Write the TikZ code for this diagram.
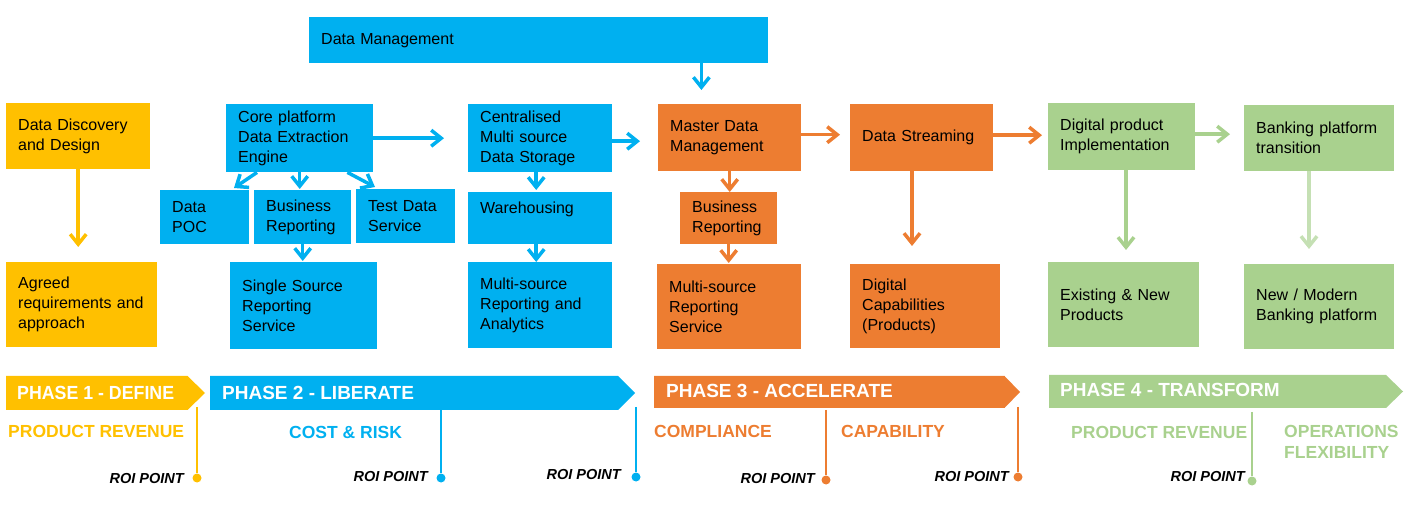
\documentclass[tikz,border=0pt]{standalone}
\usepackage{fontspec}
\setmainfont{Liberation Sans}
\usetikzlibrary{arrows.meta}

\definecolor{cblue}{HTML}{00B0F0}
\definecolor{corange}{HTML}{ED7D31}
\definecolor{cyellow}{HTML}{FFC000}
\definecolor{cgreen}{HTML}{A9D18E}
\definecolor{clightgreen}{HTML}{C5E0B4}

\begin{document}
\begin{tikzpicture}[x=1pt, y=-1pt,
  box/.style={anchor=north west, inner xsep=12pt, inner ysep=0pt, align=left,
    font=\fontsize{16}{20}\selectfont},
  arr/.style={line width=3.5pt, -{Straight Barb[length=10pt,width=16pt]}},
  phase/.style={anchor=west, inner sep=0pt, text=white, font=\fontsize{19}{22}\selectfont\bfseries},
  gain/.style={anchor=west, inner sep=0pt, align=left, font=\fontsize{17.5}{20.5}\selectfont\bfseries},
  roi/.style={anchor=east, inner sep=0pt, font=\fontsize{14.5}{17}\selectfont\bfseries\itshape},
  roidot/.style={circle, inner sep=0pt, minimum size=9pt},
  roiline/.style={line width=2pt}]
  \useasboundingbox (0,0) rectangle (1411,510);

  % Top bar
  \node[box, fill=cblue, text width=435pt, minimum height=46pt] (dm) at (309,17) {Data Management};

  % Phase 1 boxes
  \node[box, fill=cyellow, text width=120pt, minimum height=66pt] (disc) at (6,103) {Data Discovery\\and Design};
  \node[box, fill=cyellow, text width=127pt, minimum height=85pt] (agreed) at (6,262) {Agreed\\requirements and\\approach};

  % Phase 2 boxes
  \node[box, fill=cblue, text width=123pt, minimum height=68pt] (core) at (226,104) {Core platform\\Data Extraction\\Engine};
  \node[box, fill=cblue, text width=65pt, minimum height=54pt] (poc) at (160,190) {Data\\POC};
  \node[box, fill=cblue, text width=73pt, minimum height=54pt] (busrep) at (254,190) {Business\\Reporting};
  \node[box, fill=cblue, text width=75pt, minimum height=54pt] (test) at (356,189) {Test Data\\Service};
  \node[box, fill=cblue, text width=123pt, minimum height=87pt] (single) at (230,262) {Single Source\\Reporting\\Service};
  \node[box, fill=cblue, text width=120pt, minimum height=68pt] (central) at (468,104) {Centralised\\Multi source\\Data Storage};
  \node[box, fill=cblue, text width=120pt, minimum height=52pt] (ware) at (468,192) {Warehousing\\\mbox{}};
  \node[box, fill=cblue, text width=120pt, minimum height=86pt] (msra) at (468,262) {Multi-source\\Reporting and\\Analytics};

  % Phase 3 boxes
  \node[box, fill=corange, text width=119pt, minimum height=67pt] (mdm) at (658,104) {Master Data\\Management};
  \node[box, fill=corange, text width=73pt, minimum height=52pt] (brep) at (680,192) {Business\\Reporting};
  \node[box, fill=corange, text width=120pt, minimum height=85pt] (msrs) at (657,264) {Multi-source\\Reporting\\Service};
  \node[box, fill=corange, text width=119pt, minimum height=67pt] (stream) at (850,104) {Data Streaming};
  \node[box, fill=corange, text width=126pt, minimum height=84pt] (digcap) at (850,264) {Digital\\Capabilities\\(Products)};

  % Phase 4 boxes
  \node[box, fill=cgreen, text width=123pt, minimum height=67pt] (digprod) at (1048,103) {Digital product\\Implementation};
  \node[box, fill=cgreen, text width=127pt, minimum height=85pt] (exist) at (1048,262) {Existing \& New\\Products};
  \node[box, fill=cgreen, text width=126pt, minimum height=66pt] (bank) at (1244,105) {Banking platform\\transition};
  \node[box, fill=cgreen, text width=126pt, minimum height=85pt] (modern) at (1244,264) {New / Modern\\Banking platform};

  % Arrows
  \coordinate (dmout) at ([xshift=-67pt]dm.south east);
  \draw[arr, cblue, shorten >=14pt] (dmout) -- (dmout |- mdm.north);
  \draw[arr, cyellow, shorten >=15pt] (disc.south) -- (disc.south |- agreed.north);
  \draw[arr, cblue, shorten >=24pt] (core.east) -- (core.east -| central.west);
  \draw[arr, cblue] ([xshift=31pt]core.south west) -- ([xshift=74pt,yshift=2pt]poc.north west);
  \draw[arr, cblue, shorten >=1pt] (core.south) -- (core.south |- busrep.north);
  \draw[arr, cblue] ([xshift=-26pt]core.south east) -- ([xshift=19pt,yshift=2pt]test.north west);
  \draw[arr, cblue, shorten >=1pt] (busrep.south) -- (busrep.south |- single.north);
  \coordinate (cout) at ([yshift=-3pt]central.east);
  \draw[arr, cblue, shorten >=18pt] (cout) -- (cout -| mdm.west);
  \draw[arr, cblue, shorten >=2pt] ([xshift=-4pt]central.south) -- ([xshift=-4pt]ware.north);
  \draw[arr, cblue] ([xshift=-4pt]ware.south) -- ([xshift=-4pt]msra.north);
  \coordinate (mout) at ([yshift=3pt]mdm.east);
  \draw[arr, corange, shorten >=10pt] (mout) -- (mout -| stream.west);
  \draw[arr, corange] (mdm.south) -- (mdm.south |- brep.north);
  \draw[arr, corange, shorten >=1pt] (brep.south) -- (brep.south |- msrs.north);
  \coordinate (sdown) at ([xshift=62pt]stream.south west);
  \draw[arr, corange, shorten >=18pt] (sdown) -- (sdown |- digcap.north);
  \coordinate (sout) at ([yshift=2.5pt]stream.east);
  \draw[arr, corange, shorten >=6pt] (sout) -- (sout -| digprod.west);
  \coordinate (dout) at ([yshift=2.5pt]digprod.east);
  \draw[arr, cgreen, shorten >=14pt] (dout) -- (dout -| bank.west);
  \coordinate (ddown) at ([xshift=78pt]digprod.south west);
  \draw[arr, cgreen, shorten >=12pt] (ddown) -- (ddown |- exist.north);
  \coordinate (bdown) at ([xshift=65pt]bank.south west);
  \draw[arr, clightgreen, shorten >=15pt] (bdown) -- (bdown |- modern.north);

  % Phase banners
  \fill[cyellow] (6,376) -- (187.5,376) -- (205,393) -- (187.5,410) -- (6,410) -- cycle;
  \fill[cblue] (210,376) -- (618,376) -- (635,393) -- (618,410) -- (210,410) -- cycle;
  \fill[corange] (654,376) -- (1004.5,376) -- (1020,392) -- (1004.5,408) -- (654,408) -- cycle;
  \fill[cgreen] (1049,375) -- (1386,375) -- (1403,391.5) -- (1386,408) -- (1049,408) -- cycle;
  \node[phase] (ph1) at (17,393) {\scalebox{0.935}[1]{PHASE 1 - DEFINE}};
  \node[phase] (ph2) at (222,392.5) {PHASE 2 - LIBERATE};
  \node[phase] (ph3) at (666,390.5) {PHASE 3 - ACCELERATE};
  \node[phase] (ph4) at (1060,390) {PHASE 4 - TRANSFORM};

  % Gains
  \node[gain, text=cyellow] (g1) at (8,431) {PRODUCT REVENUE};
  \node[gain, text=cblue] (g2) at (289,432.5) {COST \& RISK};
  \node[gain, text=corange] (g3) at (654,431) {COMPLIANCE};
  \node[gain, text=corange] (g4) at (841,431) {CAPABILITY};
  \node[gain, text=cgreen] (g5) at (1071,432.5) {PRODUCT REVENUE};
  \node[gain, text=cgreen] (g6) at (1284,442) {OPERATIONS\\FLEXIBILITY};

  % ROI points
  \node[roidot, fill=cyellow] (r1) at (197,478) {};
  \node[roidot, fill=cblue] (r2) at (441,478) {};
  \node[roidot, fill=cblue] (r3) at (636,477) {};
  \node[roidot, fill=corange] (r4) at (826,480) {};
  \node[roidot, fill=corange] (r5) at (1018,477) {};
  \node[roidot, fill=cgreen] (r6) at (1252,481) {};
  \coordinate (t1) at (197,407);
  \coordinate (t2) at (441,410);
  \coordinate (t3) at (636,407);
  \coordinate (t4) at (826,410);
  \coordinate (t5) at (1018,407);
  \coordinate (t6) at (1252,412);
  \draw[roiline, cyellow] (t1) -- (r1);
  \draw[roiline, cblue] (t2) -- (r2);
  \draw[roiline, cblue] (t3) -- (r3);
  \draw[roiline, corange] (t4) -- (r4);
  \draw[roiline, corange] (t5) -- (r5);
  \draw[roiline, cgreen] (t6) -- (r6);
  \node[roi] (l1) at (184,478.5) {ROI POINT};
  \node[roi] (l2) at (428,477) {ROI POINT};
  \node[roi] (l3) at (621,475) {ROI POINT};
  \node[roi] (l4) at (815,479) {ROI POINT};
  \node[roi] (l5) at (1009,477) {ROI POINT};
  \node[roi] (l6) at (1245,477) {ROI POINT};
\end{tikzpicture}
\end{document}
